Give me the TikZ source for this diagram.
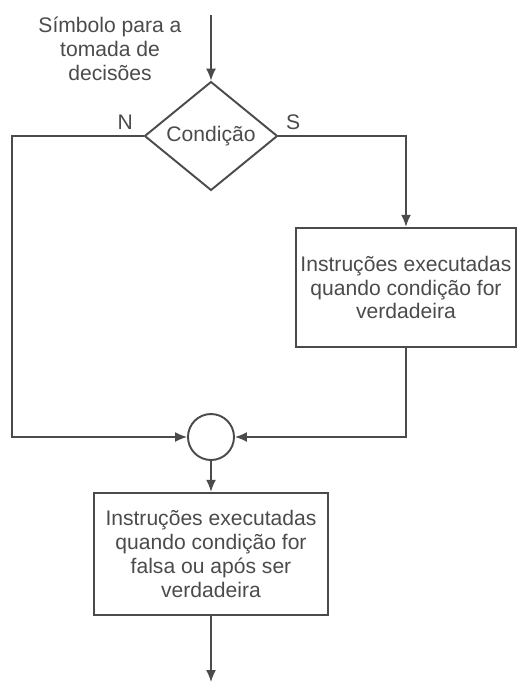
\documentclass[tikz,border=0pt]{standalone}
\usepackage{fontspec}
\setmainfont{Liberation Sans}
\usepackage{xcolor}
\usetikzlibrary{
    arrows.meta,
    shapes.geometric,
    positioning
}
\definecolor{ink}{RGB}{75,75,75}

\begin{document}
\begin{tikzpicture}[>={Latex[length=2.4mm,width=2mm]}, color=ink, line width=0.85pt,
                    every node/.style={font=\fontsize{12}{13.6}\selectfont}]
                        \useasboundingbox (0,0) rectangle (10.36,-13.64);
                        \node[align=center] (note) at (2.2,-0.98) {Símbolo para a\\tomada de\\decisões};
                        \coordinate (in) at (4.22,-0.3);
                        \node[diamond, draw, line width=1.1pt, minimum width=2.66cm, minimum height=1.94cm, inner sep=0pt] (cond) at (4.22,-2.72) {Condição};
                        \node[draw, line width=1.4pt, minimum width=4.4cm, minimum height=2.38cm, inner sep=0pt, align=center] (instrV) at (8.12,-5.75) {Instruções executadas\\quando condição for\\verdadeira};
                        \node[circle, draw, line width=1.1pt, minimum size=0.92cm, inner sep=0pt] (join) at (4.22,-8.74) {};
                        \node[draw, line width=1.4pt, minimum width=4.68cm, minimum height=2.44cm, inner sep=0pt, align=center] (instrF) at (4.22,-11.08) {Instruções executadas\\quando condição for\\falsa ou após ser\\verdadeira};
                        \coordinate (lft) at (0.24,-2.72);
                        \coordinate (out) at (4.22,-13.64);
                        \draw
                        (in) edge[->] (cond)
                        (join) edge[->] (instrF)
                        (instrF) edge[->] (out);
                        \draw[->] (cond.west) -- node[pos=0.14, above]{N} (lft) |- (join);
                        \draw[->] (cond.east) -| node[pos=0.058, above]{S} (instrV.north);
                        \draw[->] (instrV.south) |- (join);
                    \end{tikzpicture}
\end{document}
